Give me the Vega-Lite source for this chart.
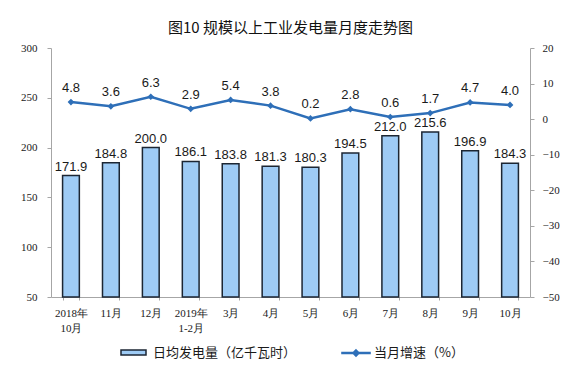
{
  "$schema": "https://vega.github.io/schema/vega-lite/v6.json",
  "width": 479,
  "height": 249,
  "autosize": {"type": "none"},
  "padding": {"left": 51, "top": 48, "right": 45, "bottom": 81},
  "background": "white",
  "title": {
    "text": "图10 规模以上工业发电量月度走势图",
    "font": "Noto Sans CJK SC",
    "fontSize": 15,
    "fontWeight": "normal",
    "color": "#111111",
    "anchor": "middle",
    "offset": 6
  },
  "config": {
    "view": {"stroke": null},
    "axis": {"grid": false, "domainColor": "#a6a6a6", "tickColor": "#a6a6a6", "labelFont": "Liberation Serif", "labelFontSize": 11, "labelColor": "#1a1a1a", "title": null},
    "legend": {"labelFont": "Noto Sans CJK SC", "labelFontSize": 13, "labelColor": "#1a1a1a", "title": null, "padding": 0}
  },
  "data": {
    "values": [
      {"month": "2018年|10月", "gen": 171.9, "growth": 4.8},
      {"month": "11月", "gen": 184.8, "growth": 3.6},
      {"month": "12月", "gen": 200.0, "growth": 6.3},
      {"month": "2019年|1-2月", "gen": 186.1, "growth": 2.9},
      {"month": "3月", "gen": 183.8, "growth": 5.4},
      {"month": "4月", "gen": 181.3, "growth": 3.8},
      {"month": "5月", "gen": 180.3, "growth": 0.2},
      {"month": "6月", "gen": 194.5, "growth": 2.8},
      {"month": "7月", "gen": 212.0, "growth": 0.6},
      {"month": "8月", "gen": 215.6, "growth": 1.7},
      {"month": "9月", "gen": 196.9, "growth": 4.7},
      {"month": "10月", "gen": 184.3, "growth": 4.0}
    ]
  },
  "encoding": {
    "x": {
      "field": "month", "type": "nominal", "sort": null,
      "scale": {"paddingInner": 0.58, "paddingOuter": 0.29},
      "axis": {"labelAngle": 0, "labelExpr": "split(datum.label, '|')", "labelPadding": 7, "tickBand": "extent", "tickSize": 3, "labelLineHeight": 15, "labelBaseline": "top"}
    }
  },
  "layer": [
    {
      "encoding": {
        "y": {"field": "gen", "type": "quantitative", "scale": {"domain": [50, 300], "zero": false, "nice": false}, "axis": {"values": [50, 100, 150, 200, 250, 300], "orient": "left", "tickSize": 4, "labelPadding": 10}}
      },
      "layer": [
        {
          "mark": {"type": "bar", "stroke": "#1c2633", "strokeWidth": 1.5},
          "encoding": {
            "y2": {"datum": 50},
            "fill": {"datum": "日均发电量（亿千瓦时）", "type": "nominal", "scale": {"range": ["#9ecbf5"]},
              "legend": {"orient": "none", "legendX": 76, "legendY": 298, "direction": "horizontal", "symbolType": "M-2.5,-0.5H2.5V0.5H-2.5Z", "symbolSize": 100, "symbolStrokeColor": "#1c2633", "symbolStrokeWidth": 1.5, "labelOffset": 13}}
          }
        },
        {
          "mark": {"type": "text", "dy": -9, "font": "Liberation Sans", "fontSize": 13, "color": "#1a1a1a"},
          "encoding": {
            "text": {"field": "gen", "type": "quantitative", "format": ".1f"}
          }
        }
      ]
    },
    {
      "encoding": {
        "y": {"field": "growth", "type": "quantitative", "scale": {"domain": [-50, 20], "nice": false}, "axis": {"values": [-50, -40, -30, -20, -10, 0, 10, 20], "orient": "right", "tickSize": 4, "labelPadding": 8}}
      },
      "layer": [
        {
          "mark": {"type": "line", "color": "#2e6fb8", "strokeWidth": 2.5},
          "encoding": {
            "stroke": {"datum": "当月增速（%）", "type": "nominal", "scale": {"range": ["#2e6fb8"]},
              "legend": {"orient": "none", "legendX": 298, "legendY": 298, "direction": "horizontal", "symbolType": "M-2.7,0H2.7M0,-0.45L0.45,0L0,0.45L-0.45,0Z", "symbolSize": 120, "symbolStrokeWidth": 2.5, "symbolFillColor": "#2e6fb8", "labelOffset": 11}}
          }
        },
        {
          "mark": {"type": "point", "shape": "diamond", "filled": true, "size": 45, "color": "#2e6fb8", "opacity": 1},
          "encoding": {}
        },
        {
          "mark": {"type": "text", "dy": -14, "font": "Liberation Sans", "fontSize": 13, "color": "#1a1a1a"},
          "encoding": {
            "text": {"field": "growth", "type": "quantitative", "format": ".1f"}
          }
        }
      ]
    }
  ],
  "resolve": {"scale": {"y": "independent", "fill": "independent", "stroke": "independent"}}
}
